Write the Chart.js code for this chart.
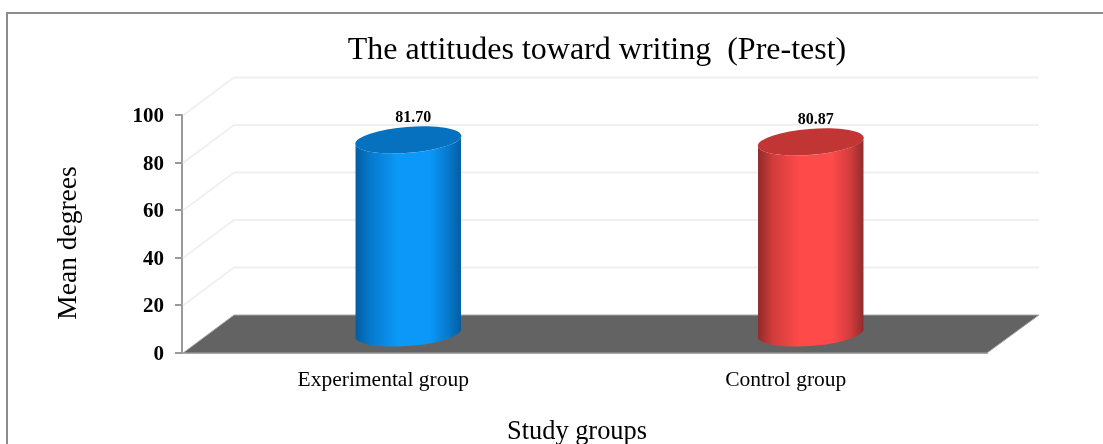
<!DOCTYPE html>
<html>
<head>
<meta charset="utf-8">
<style>
html, body { margin: 0; padding: 0; background: #fff; overflow: hidden; }
#wrap { position: relative; width: 1103px; height: 444px; }
</style>
<script src="https://cdn.jsdelivr.net/npm/chart.js@4/dist/chart.umd.min.js"></script>
</head>
<body>
<div id="wrap"><canvas id="barChart" width="1103" height="444"></canvas></div>
<script>
var groups = ['Experimental group', 'Control group'];
var means = [81.70, 80.87];
var yTicks = [0, 20, 40, 60, 80, 100];
var sideColors = [
    ['#045c9e', '#0679cc', '#0b98f8', '#0b98f8', '#0679cc', '#045c9e'],
    ['#8e2a2a', '#d03c3c', '#ff4a4a', '#ff4a4a', '#d03c3c', '#8e2a2a']
];
var topColors = ['#0672bf', '#c23535'];
var chartTitle = 'The attitudes toward writing  (Pre-test)';
var yTitle = 'Mean degrees';
var xTitle = 'Study groups';

var serif = '"Liberation Serif", "Times New Roman", serif';
var depthX = 52, depthY = 38;

var scenePlugin = {
    id: 'scene',
    beforeDraw: function (chart) {
        var c = chart.ctx;
        // outer frame, only left and top are in the picture
        c.save();
        c.strokeStyle = '#8c8c8c';
        c.lineWidth = 2;
        c.beginPath();
        c.moveTo(7, 444);
        c.lineTo(7, 13);
        c.lineTo(1103, 13);
        c.stroke();
        c.restore();
        // y labels sit a bit high with the middle baseline
        chart.scales.y.getLabelItems(chart.chartArea).forEach(function (item) {
            item.options.translation[1] = chart.scales.y.getPixelForValue(Number(item.label)) + 1.5;
        });
    },
    beforeDatasetsDraw: function (chart) {
        var c = chart.ctx, y = chart.scales.y, a = chart.chartArea;
        c.save();
        // back wall and side wall lines
        c.strokeStyle = '#f0f0f0';
        c.lineWidth = 2;
        yTicks.forEach(function (v) {
            if (v === 0) return;
            var py = y.getPixelForValue(v);
            c.beginPath();
            c.moveTo(a.left + 1, py);
            c.lineTo(a.left + depthX, py - depthY);
            c.lineTo(a.right + depthX, py - depthY);
            c.stroke();
        });
        // floor
        var y0 = y.getPixelForValue(0);
        c.fillStyle = '#636363';
        c.strokeStyle = '#a8a8a8';
        c.lineWidth = 1;
        c.beginPath();
        c.moveTo(a.left + 1, y0);
        c.lineTo(a.left + depthX, y0 - depthY);
        c.lineTo(a.right + depthX, y0 - depthY);
        c.lineTo(a.right, y0);
        c.closePath();
        c.fill();
        c.stroke();
        c.restore();
    },
    afterDatasetsDraw: function (chart) {
        var c = chart.ctx;
        chart.getDatasetMeta(0).data.forEach(function (bar, i) {
            var cx = bar.x + depthX / 2 - 1, topY = bar.y - depthY / 2, baseY = bar.base - depthY / 2;
            var w = bar.width / 2, ry = 13, tilt = -4.5 * Math.PI / 180;
            c.save();
            var g = c.createLinearGradient(cx - w, 0, cx + w, 0);
            [0, 0.14, 0.4, 0.7, 0.88, 1].forEach(function (s, k) {
                g.addColorStop(s, sideColors[i][k]);
            });
            c.fillStyle = g;
            c.beginPath();
            c.ellipse(cx, baseY, w, ry, tilt, -0.08, Math.PI - 0.08);
            c.ellipse(cx, topY, w, ry, tilt, Math.PI - 0.08, -0.08, true);
            c.closePath();
            c.fill();
            c.fillStyle = topColors[i];
            c.beginPath();
            c.ellipse(cx, topY, w, ry, tilt, 0, Math.PI * 2);
            c.fill();
            // value label
            c.fillStyle = '#000';
            c.font = 'bold 16px ' + serif;
            c.textAlign = 'center';
            c.textBaseline = 'middle';
            c.fillText(means[i].toFixed(2), cx + 5, topY - 22);
            c.restore();
        });
    },
    afterDraw: function (chart) {
        var c = chart.ctx;
        c.save();
        c.fillStyle = '#000';
        c.textAlign = 'center';
        c.textBaseline = 'middle';
        c.font = '26.4px ' + serif;
        c.fillText(xTitle, 577, 432);
        c.translate(69, 243);
        c.rotate(-Math.PI / 2);
        c.font = '27.5px ' + serif;
        c.fillText(yTitle, 0, 0);
        c.restore();
    },
    afterLayout: function (chart) {
        // title sits right of the canvas centre
        chart.titleBlock.left = 91;
        chart.titleBlock.right = 1103;
    }
};

var ctx = document.getElementById('barChart').getContext('2d');

var myChart = new Chart(ctx, {
    type: 'bar',
    data: {
        labels: groups,
        datasets: [{
            label: 'Mean degrees',
            data: means,
            backgroundColor: 'rgba(0,0,0,0)',
            borderWidth: 0,
            barPercentage: 0.264,
            categoryPercentage: 1
        }]
    },
    options: {
        responsive: false,
        animation: false,
        layout: { padding: { left: 0, right: 116, top: 0, bottom: 0 } },
        plugins: {
            legend: { display: false },
            tooltip: { enabled: false },
            title: {
                display: true,
                text: chartTitle,
                color: '#000',
                font: { family: serif, size: 32, weight: 'normal' },
                padding: { top: 31, bottom: 46 }
            }
        },
        scales: {
            x: {
                grid: { display: false },
                border: { color: '#a8a8a8', width: 2 },
                ticks: { color: '#000', padding: 6, font: { family: serif, size: 21.5 } },
                afterFit: function (s) { s.height = 91; }
            },
            y: {
                min: 0,
                max: 100,
                afterBuildTicks: function (s) {
                    s.ticks = yTicks.map(function (v) { return { value: v }; });
                },
                grid: { drawOnChartArea: false, color: '#999999', lineWidth: 2, tickLength: 7 },
                border: { color: '#999999', width: 2 },
                ticks: { color: '#000', padding: 11, font: { family: serif, size: 21, weight: 'bold' } },
                afterFit: function (s) { s.width = 182; }
            }
        }
    },
    plugins: [scenePlugin]
});
</script>
</body>
</html>
